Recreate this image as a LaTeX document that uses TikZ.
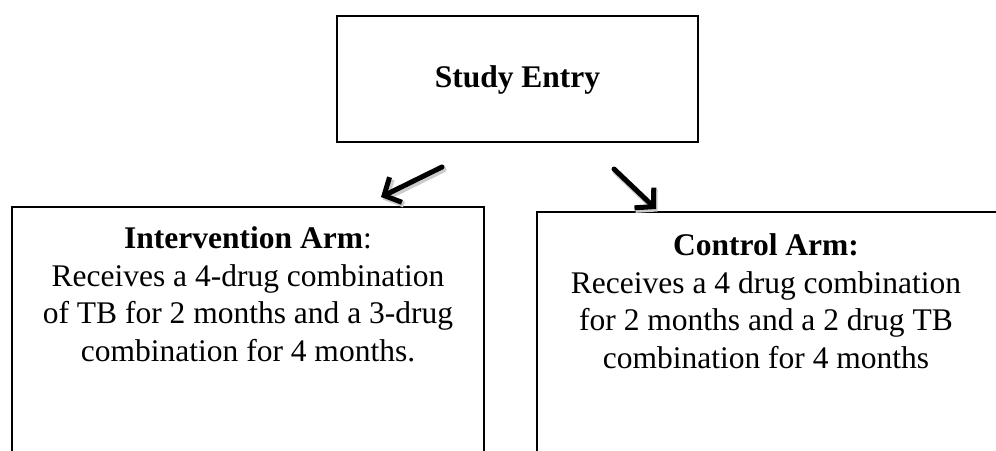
\documentclass[tikz,border=0pt]{standalone}
\usepackage{fontspec}
\setmainfont{Liberation Serif}
\usetikzlibrary{arrows.meta}
\begin{document}
\begin{tikzpicture}[x=1pt,y=-1pt,
  box/.style={draw=black,line width=2pt,rectangle,inner sep=0pt},
  txt/.style={font=\fontsize{31.5}{37.5}\selectfont,align=center,inner sep=0pt},
  arr/.style={line width=5pt,line cap=round,-{Straight Barb[length=13pt,width=28pt]}},
  shad/.style={line width=6pt,line cap=round,draw=black!20,-{Straight Barb[length=13pt,width=28pt]}}]
\useasboundingbox (0,0) rectangle (996,450);
% boxes
\node[box,minimum width=361pt,minimum height=126pt] (entry) at (517.5,79) {};
\node[box,minimum width=472pt,minimum height=263pt] (left) at (248,338.5) {};
\node[box,minimum width=463pt,minimum height=258pt] (right) at (768.5,341) {};
% texts
\node[txt,anchor=base] (entrytxt) at (entry.center |- 0,87) {\textbf{Study Entry}};
\node[txt,anchor=north] (lefttxt) at (248,226.5) {\textbf{Intervention Arm}:\\Receives a 4-drug combination\\of TB for 2 months and a 3-drug\\combination for 4 months.};
\node[txt,anchor=north] (righttxt) at (766,233.5) {\textbf{Control Arm:}\\Receives a 4 drug combination\\for 2 months and a 2 drug TB\\combination for 4 months};
% arrows
\coordinate (a1s) at (442,167);
\coordinate (a1e) at (381,197);
\coordinate (a2s) at (614,169);
\coordinate (a2e) at (656,209);
\draw[shad] ([shift={(1.5,2.5)}]a1s) -- ([shift={(1.5,2.5)}]a1e);
\draw[shad] ([shift={(1.5,2.5)}]a2s) -- ([shift={(1.5,2.5)}]a2e);
\draw[arr] (a1s) -- (a1e);
\draw[arr] (a2s) -- (a2e);
\end{tikzpicture}
\end{document}
